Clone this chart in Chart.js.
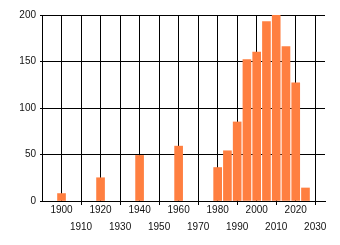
<!DOCTYPE html>
<html>
<head>
<meta charset="utf-8">
<script src="https://cdn.jsdelivr.net/npm/chart.js@4/dist/chart.umd.min.js"></script>
<style>
  html, body { margin: 0; padding: 0; background: #fff; }
  #wrap { width: 340px; height: 245px; }
</style>
</head>
<body>
<div id="wrap"><canvas id="graph" width="340" height="245"></canvas></div>
<script>
// bins (5 year steps) and their counts
const years = [1900, 1920, 1940, 1960, 1980, 1985, 1990, 1995, 2000, 2005, 2010, 2015, 2020, 2025];
const counts = [8, 25, 49, 59, 36, 54, 85, 152, 160, 193, 200, 166, 127, 14];
const xTicks = [1900, 1910, 1920, 1930, 1940, 1950, 1960, 1970, 1980, 1990, 2000, 2010, 2020, 2030];
const yTicks = [0, 50, 100, 150, 200];

const font = { family: 'Liberation Sans', size: 10 };
const isOdd = v => (v / 10) % 2 === 1;

new Chart(document.getElementById('graph'), {
    type: 'bar',
    data: {
        datasets: [{
            data: years.map((y, i) => ({ x: y, y: counts[i] })),
            backgroundColor: 'rgb(255, 127, 64)',
            barThickness: 8,
            borderWidth: 0
        }]
    },
    options: {
        responsive: false,
        animation: false,
        layout: { padding: { left: 0, right: 15, top: 15, bottom: 0 } },
        plugins: { legend: { display: false }, tooltip: { enabled: false } },
        scales: {
            x: {
                type: 'linear',
                min: 1890,
                max: 2035,
                offset: false,
                afterBuildTicks: s => { s.ticks = xTicks.map(v => ({ value: v })); },
                afterFit: s => { s.height = 44; },
                grid: {
                    offset: false,
                    color: '#000',
                    lineWidth: 1,
                    tickLength: 4,
                    tickColor: c => (c.tick && isOdd(c.tick.value)) ? '#000' : 'rgba(0,0,0,0)'
                },
                border: { color: '#000' },
                ticks: {
                    autoSkip: false,
                    maxRotation: 0,
                    padding: -3,
                    color: '#111',
                    font: { ...font, lineHeight: 1.65 },
                    callback: v => isOdd(v) ? ['', String(v)] : String(v)
                }
            },
            y: {
                min: 0,
                max: 200,
                afterBuildTicks: s => { s.ticks = yTicks.map(v => ({ value: v })); },
                afterFit: s => { s.width = 42; },
                grid: { color: '#000', lineWidth: 1, tickLength: 2 },
                border: { color: '#000' },
                ticks: { padding: 4, color: '#111', font: font }
            }
        }
    }
});
</script>
</body>
</html>
